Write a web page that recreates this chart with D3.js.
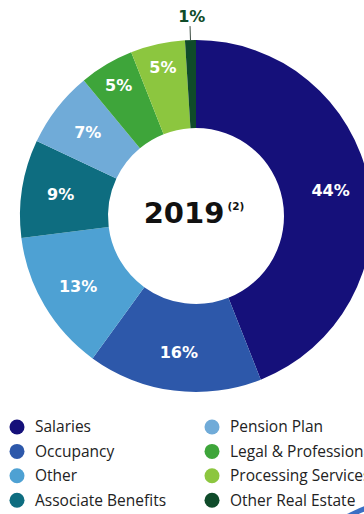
<!DOCTYPE html>
<html>
<head>
<meta charset="utf-8">
<script src="https://cdn.jsdelivr.net/npm/d3@7"></script>
<style>
  html, body { margin: 0; padding: 0; background: #fff; overflow: hidden; }
  svg { display: block; }
</style>
</head>
<body>
<svg id="chart" width="364" height="514"></svg>
<script>
// Expense breakdown, 2019 (percent of total)
const categories = ["Salaries", "Occupancy", "Other", "Associate Benefits",
                    "Pension Plan", "Legal & Professional Fees", "Processing Services", "Other Real Estate"];
const shares = [44, 16, 13, 9, 7, 5, 5, 1];
const colors = ["#15107a", "#2d58aa", "#4ea1d3", "#0e6d80",
                "#70abd8", "#3ea53a", "#8cc63f", "#0f4b2a"];
const centerTitle = "2019";
const centerNote = "(2)";

const W = 364, H = 514;
const cx = 196, cy = 216;
const rOuter = 176, rInner = 88;

const svg = d3.select("#chart");

const data = categories.map((c, i) => ({ name: c, value: shares[i], color: colors[i] }));

const pie = d3.pie().value(d => d.value).sort(null);
const arcs = pie(data);

const arc = d3.arc().innerRadius(rInner).outerRadius(rOuter);

const g = svg.append("g").attr("transform", `translate(${cx},${cy})`);

g.selectAll("path.slice")
  .data(arcs)
  .join("path")
  .attr("class", "slice")
  .attr("d", arc)
  .attr("fill", d => d.data.color);

// Labels inside the ring; narrow slices sit a bit further out
const labelArcWide = d3.arc().innerRadius(137).outerRadius(137);
const labelArcNarrow = d3.arc().innerRadius(152).outerRadius(152);

const inside = arcs.filter(d => d.data.value > 2);
g.selectAll("text.pct")
  .data(inside)
  .join("text")
  .attr("class", "pct")
  .attr("transform", d => {
    const a = d.data.value > 5 ? labelArcWide : labelArcNarrow;
    const [x, y] = a.centroid(d);
    return `translate(${x},${y})`;
  })
  .attr("text-anchor", "middle")
  .attr("dy", "0.36em")
  .attr("fill", "#fff")
  .style("font-family", "'DejaVu Sans', sans-serif")
  .style("font-weight", "700")
  .style("font-size", "16px")
  .text(d => d.data.value + "%");

// Tiny slices get an outside label with a leader line
const outside = arcs.filter(d => d.data.value <= 2);
const leadStart = d3.arc().innerRadius(rOuter).outerRadius(rOuter);
const leadEnd = d3.arc().innerRadius(190).outerRadius(190);
const leadText = d3.arc().innerRadius(200).outerRadius(200);

g.selectAll("line.lead")
  .data(outside)
  .join("line")
  .attr("class", "lead")
  .attr("x1", d => leadStart.centroid(d)[0])
  .attr("y1", d => leadStart.centroid(d)[1])
  .attr("x2", d => leadEnd.centroid(d)[0])
  .attr("y2", d => leadEnd.centroid(d)[1])
  .attr("stroke", "#3a4a40")
  .attr("stroke-width", 1);

g.selectAll("text.out")
  .data(outside)
  .join("text")
  .attr("class", "out")
  .attr("transform", d => {
    const [x, y] = leadText.centroid(d);
    return `translate(${x + 2},${y})`;
  })
  .attr("text-anchor", "middle")
  .attr("dy", "0.36em")
  .attr("fill", d => d.data.color)
  .style("font-family", "'DejaVu Sans', sans-serif")
  .style("font-weight", "700")
  .style("font-size", "16px")
  .text(d => d.data.value + "%");

// Center title
const title = g.append("text")
  .attr("x", -2)
  .attr("y", 7)
  .attr("text-anchor", "middle")
  .attr("fill", "#111")
  .style("font-family", "'DejaVu Sans', sans-serif")
  .style("font-weight", "700")
  .style("font-size", "29px");
title.append("tspan").text(centerTitle);
title.append("tspan")
  .attr("dx", 3)
  .attr("dy", -13)
  .style("font-size", "10.5px")
  .text(centerNote);

// Legend: two columns of four
const legend = svg.append("g").attr("class", "legend");
const rows = 4, rowStep = 24.4, colX = [17, 212], rowY0 = 427;

const items = legend.selectAll("g.item")
  .data(data)
  .join("g")
  .attr("class", "item")
  .attr("transform", (d, i) => {
    const col = Math.floor(i / rows), row = i % rows;
    return `translate(${colX[col]},${rowY0 + row * rowStep})`;
  });

items.append("circle")
  .attr("r", 7.5)
  .attr("fill", d => d.color);

items.append("text")
  .attr("x", 18)
  .attr("dy", "0.35em")
  .attr("fill", "#222")
  .style("font-family", "'Open Sans', sans-serif")
  .style("font-size", "15.5px")
  .text(d => d.name);

// Edge of the neighbouring chart peeking in at the bottom-right corner
const neighbour = d3.arc()
  .innerRadius(203).outerRadius(208)
  .startAngle(-0.8).endAngle(-0.1);
svg.append("path")
  .attr("transform", "translate(440,700)")
  .attr("d", neighbour)
  .attr("fill", "#3a6fc4");
</script>
</body>
</html>
